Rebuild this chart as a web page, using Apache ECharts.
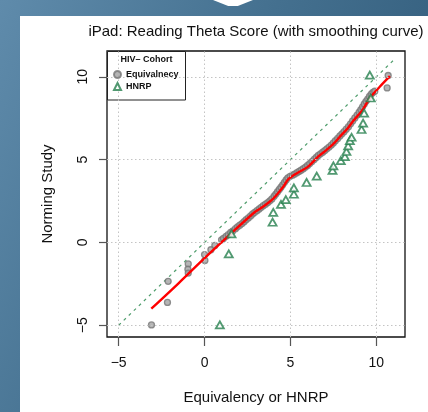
<!DOCTYPE html>
<html>
<head>
<meta charset="utf-8">
<script src="https://cdn.jsdelivr.net/npm/echarts@6/dist/echarts.min.js"></script>
<style>
  body { margin: 0; width: 428px; height: 412px; overflow: hidden; position: relative;
         background: linear-gradient(115deg, #5f8bab 0%, #44708f 45%, #2b5574 100%); }
  #panel { position: absolute; left: 20px; top: 16px; width: 408px; height: 396px; background: #fff; }
  #notch { position: absolute; left: 213px; top: 0; width: 40px; height: 6px; background: #fff;
           clip-path: polygon(0 0, 100% 0, 62% 100%, 38% 100%); }
  #chart { position: absolute; left: 0; top: 0; width: 428px; height: 412px; }
</style>
</head>
<body>
<div id="panel"></div>
<div id="notch"></div>
<div id="chart"></div>
<script>
// tick positions on both axes
var tickValues = [-5, 0, 5, 10];

// Equivalency quantiles vs norming study (gray circles)
var equivalency = [
  [-3.09, -4.98], [-2.16, -3.62], [-2.12, -2.35], [-0.95, -1.30], [-0.97, -1.62], [-0.95, -1.85],
  [0.02, -1.09], [0.00, -0.73], [0.37, -0.44], [0.60, -0.18], [0.99, 0.16],
  [1.10, 0.24], [1.25, 0.37], [1.38, 0.47], [1.52, 0.60], [1.65, 0.70], [1.80, 0.83],
  [1.92, 0.94], [2.05, 1.04], [2.18, 1.14], [2.30, 1.25], [2.42, 1.37], [2.55, 1.48],
  [2.68, 1.60], [2.80, 1.72], [2.92, 1.82], [3.05, 1.92], [3.18, 2.02], [3.30, 2.12],
  [3.42, 2.22], [3.55, 2.31], [3.68, 2.41], [3.80, 2.51], [3.92, 2.63], [4.05, 2.79],
  [4.15, 2.92], [4.25, 3.06], [4.35, 3.20], [4.45, 3.34], [4.55, 3.48], [4.65, 3.63],
  [4.75, 3.77], [4.85, 3.90], [4.98, 3.99], [5.12, 4.06], [5.25, 4.13], [5.38, 4.21],
  [5.50, 4.29], [5.62, 4.36], [5.75, 4.45], [5.88, 4.55], [6.00, 4.65], [6.12, 4.76],
  [6.25, 4.88], [6.38, 5.01], [6.50, 5.13], [6.62, 5.25], [6.75, 5.35], [6.88, 5.45],
  [7.00, 5.55], [7.12, 5.65], [7.25, 5.76], [7.38, 5.88], [7.50, 6.01], [7.62, 6.14],
  [7.75, 6.28], [7.88, 6.43], [8.00, 6.56], [8.12, 6.69], [8.25, 6.84], [8.38, 6.99],
  [8.50, 7.16], [8.62, 7.34], [8.75, 7.52], [8.88, 7.69], [9.00, 7.86], [9.10, 8.02],
  [9.20, 8.19], [9.30, 8.36], [9.40, 8.52], [9.50, 8.66], [9.60, 8.82], [9.70, 8.95],
  [9.80, 9.06], [9.91, 9.13], [10.63, 9.33], [10.69, 10.08]
];

// HNRP quantiles vs norming study (green triangles)
var hnrp = [
  [0.89, -4.98], [1.41, -0.69], [1.57, 0.52], [3.96, 1.22], [4.00, 1.82], [4.45, 2.30],
  [4.73, 2.59], [5.20, 2.91], [5.20, 3.30], [5.94, 3.62], [6.53, 4.00], [7.45, 4.35],
  [7.50, 4.62], [7.93, 4.94], [8.17, 5.18], [8.26, 5.49], [8.36, 5.83], [8.46, 6.15],
  [8.56, 6.35], [9.14, 6.82], [9.23, 7.21], [9.29, 7.81], [9.68, 8.72], [9.62, 10.10]
];

// smoothing curve through the equivalency points (red)
var smoothCurve = [
  [-3.10, -4.00], [-1.50, -2.45], [0.00, -0.95], [1.50, 0.50], [2.93, 1.84], [3.40, 2.15],
  [3.90, 2.55], [4.30, 3.00], [4.58, 3.36], [4.87, 3.82], [5.10, 4.00], [5.45, 4.22],
  [6.03, 4.58], [6.61, 5.18], [7.00, 5.50], [7.50, 5.95], [7.88, 6.39], [8.30, 6.85],
  [8.65, 7.33], [9.20, 8.00], [9.62, 8.72], [10.20, 9.40], [10.79, 10.04]
];

// identity line y = x
var identityLine = [[-5, -5], [11, 11]];

var font = '"Liberation Sans", Arial, Helvetica, sans-serif';

function minusLabel(v) {
  return String(v).replace('-', '\u2212');
}

var gridLines = [];
tickValues.forEach(function (v) {
  gridLines.push({ xAxis: v });
  gridLines.push({ yAxis: v });
});

var chart = echarts.init(document.getElementById('chart'), null, { renderer: 'canvas' });

chart.setOption({
  backgroundColor: 'transparent',
  animation: false,
  textStyle: { fontFamily: font },
  grid: {
    left: 107, top: 51, right: 23, bottom: 75,
    show: true, borderColor: '#111', borderWidth: 1.3, backgroundColor: 'transparent'
  },
  xAxis: {
    type: 'value', min: -5.68, max: 11.67,
    name: 'Equivalency or HNRP', nameLocation: 'middle', nameGap: 53,
    nameTextStyle: { fontSize: 15, color: '#111', fontFamily: font },
    axisLine: { show: false, onZero: false },
    axisTick: { show: true, customValues: tickValues, length: 9, lineStyle: { color: '#555', width: 1.2 } },
    axisLabel: { customValues: tickValues, formatter: minusLabel, fontSize: 14, color: '#111', margin: 19, fontFamily: font },
    splitLine: { show: false }
  },
  yAxis: {
    type: 'value', min: -5.71, max: 11.56,
    name: 'Norming Study', nameLocation: 'middle', nameGap: 52, nameRotate: 90,
    nameTextStyle: { fontSize: 15, color: '#111', fontFamily: font },
    axisLine: { show: false, onZero: false },
    axisTick: { show: true, customValues: tickValues, length: 8, lineStyle: { color: '#555', width: 1.2 } },
    axisLabel: { customValues: tickValues, formatter: minusLabel, rotate: 90, fontSize: 14, color: '#111', margin: 17, fontFamily: font },
    splitLine: { show: false }
  },
  legend: {
    orient: 'vertical', left: 113, top: 70,
    itemWidth: 7, itemHeight: 7, itemGap: 3, padding: 0,
    data: ['Equivalnecy', 'HNRP'],
    textStyle: { fontSize: 9, fontWeight: 'bold', color: '#111', fontFamily: font, padding: [0, 0, 0, 0] },
    z: 6
  },
  graphic: [
    {
      type: 'text', x: 256, y: 32, z: 6,
      style: { text: 'iPad: Reading Theta Score (with smoothing curve)', font: '15px ' + font, fill: '#111', align: 'center', verticalAlign: 'middle' }
    },
    {
      type: 'rect', z: 5, shape: { x: 107.5, y: 51.5, width: 78, height: 48.5 },
      style: { fill: '#fff', stroke: '#222', lineWidth: 1 }
    },
    {
      type: 'text', x: 146.5, y: 59.5, z: 6,
      style: { text: 'HIV\u2013 Cohort', font: 'bold 9px ' + font, fill: '#111', align: 'center', verticalAlign: 'middle' }
    }
  ],
  series: [
    {
      // dotted reference grid plus the dashed identity line
      name: 'identity', type: 'line', data: identityLine, z: 2,
      showSymbol: false, silent: true,
      lineStyle: { color: '#4f9d6c', width: 1.2, type: [3, 4] },
      markLine: {
        silent: true, symbol: 'none', label: { show: false },
        lineStyle: { color: '#c4c4c4', width: 1, type: [1.5, 2.5] },
        data: gridLines
      }
    },
    {
      name: 'Equivalnecy', type: 'scatter', data: equivalency, z: 3,
      symbol: 'circle', symbolSize: 6,
      itemStyle: { color: '#a2a2a2', borderColor: '#777', borderWidth: 1.3 }
    },
    {
      name: 'smooth', type: 'line', data: smoothCurve, z: 4,
      smooth: 0.3, showSymbol: false,
      lineStyle: { color: '#ff0000', width: 2.4 }
    },
    {
      name: 'HNRP', type: 'scatter', data: hnrp, z: 5,
      symbol: 'triangle', symbolSize: [8, 7],
      itemStyle: { color: '#fff', borderColor: '#25804d', borderWidth: 1.8 }
    }
  ]
});
</script>
</body>
</html>
